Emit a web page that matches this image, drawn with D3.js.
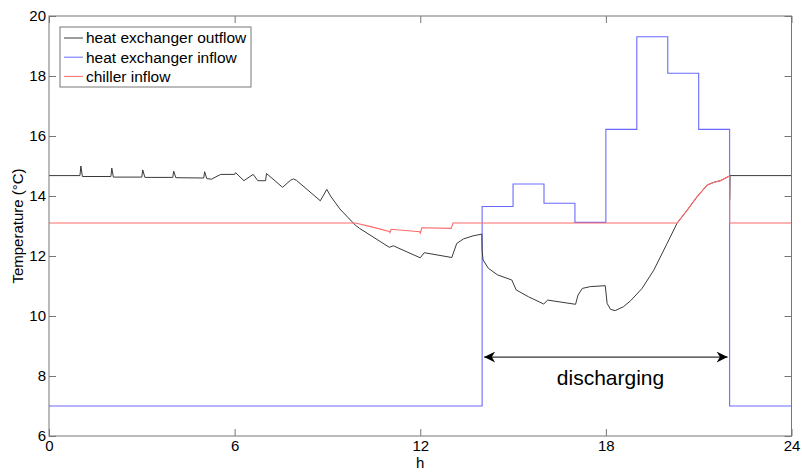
<!DOCTYPE html>
<html>
<head>
<meta charset="utf-8">
<script src="https://cdn.jsdelivr.net/npm/d3@7"></script>
<style>
  body { margin: 0; background: #fff; }
  text { font-family: Arial, "Liberation Sans", Helvetica, sans-serif; fill: #000; }
</style>
</head>
<body>
<div id="chart"></div>
<script>
// hour / temperature readings for each series
let outflow = [
  [0, 14.68], [1.0, 14.68], [1.03, 15.0], [1.08, 14.65],
  [2.0, 14.65], [2.03, 14.93], [2.08, 14.63],
  [3.0, 14.63], [3.03, 14.87], [3.1, 14.62],
  [4.0, 14.62], [4.03, 14.83], [4.1, 14.61],
  [5.0, 14.6], [5.03, 14.81], [5.1, 14.58], [5.25, 14.56], [5.55, 14.72],
  [6.0, 14.72], [6.03, 14.78], [6.3, 14.51], [6.6, 14.72], [6.75, 14.51],
  [7.0, 14.51], [7.03, 14.75], [7.55, 14.29], [7.8, 14.52], [7.9, 14.57], [8.0, 14.52],
  [8.77, 13.84], [8.98, 14.22], [9.1, 14.0], [9.4, 13.57], [9.9, 13.03],
  [10.04, 12.92], [11.0, 12.29], [11.13, 12.34], [12.0, 11.94], [12.13, 12.11],
  [13.02, 11.95], [13.18, 12.42], [13.4, 12.57], [13.7, 12.67], [13.99, 12.73],
  [14.0, 12.2], [14.03, 11.87], [14.2, 11.59], [14.5, 11.37], [14.96, 11.2],
  [15.1, 10.87], [15.5, 10.64], [15.99, 10.4], [16.12, 10.53], [17.02, 10.39],
  [17.1, 10.7], [17.24, 10.92], [17.5, 10.98], [17.98, 11.01], [18.04, 10.42],
  [18.15, 10.22], [18.3, 10.18], [18.57, 10.31], [18.8, 10.51], [19.17, 10.92],
  [19.55, 11.53], [19.98, 12.42], [20.3, 13.09], [20.63, 13.53], [20.95, 13.98],
  [21.28, 14.37], [21.5, 14.46], [21.7, 14.51], [22.0, 14.67], [22.0, 13.87],
  [22.01, 14.68], [24, 14.68]
]

let inflowHours = [0, 14, 15, 16, 17, 18, 19, 20, 21, 22, 24]
let inflowTemps = [7, 13.65, 14.4, 13.76, 13.12, 16.22, 19.31, 18.09, 16.22, 7, 7]

let chiller = [
  [0, 13.1], [9.9, 13.1], [10.4, 12.98], [11.0, 12.82], [11.02, 12.78],
  [11.06, 12.89], [11.98, 12.81], [12.0, 12.76], [12.05, 12.94], [13.0, 12.92],
  [13.06, 13.1], [20.3, 13.1], [20.63, 13.53], [20.95, 13.98], [21.28, 14.37],
  [21.5, 14.46], [21.7, 14.51], [22.0, 14.67], [22.0, 13.1], [24, 13.1]
]

let seriesNames = ["heat exchanger outflow", "heat exchanger inflow", "chiller inflow"]
let seriesColors = ["#3a3a3a", "#6a6aff", "#ff6a6a"]
let xTicks = [0, 6, 12, 18, 24]
let yTicks = [6, 8, 10, 12, 14, 16, 18, 20]
let discharge = [14, 22]   // hours, arrow span
let arrowTemp = 8.63

let width = 802, height = 473
let plotL = 49, plotR = 791.5, plotT = 16, plotB = 436

let svg = d3.select("#chart").append("svg")
svg.attr("width", width)
svg.attr("height", height)

let x = d3.scaleLinear().domain([0, 24]).range([plotL, plotR])
let y = d3.scaleLinear().domain([6, 20]).range([plotB, plotT])

let line = d3.line().x(d => x(d[0])).y(d => y(d[1]))

let inflow = inflowHours.map((h, i) => [h, inflowTemps[i]])
let stepLine = d3.line().x(d => x(d[0])).y(d => y(d[1])).curve(d3.curveStepAfter)

svg.append("path")
   .attr("d", stepLine(inflow))
   .attr("fill", "none")
   .attr("stroke", seriesColors[1])
   .attr("stroke-width", 1.1)

svg.append("path")
   .attr("d", line(outflow))
   .attr("fill", "none")
   .attr("stroke", seriesColors[0])
   .attr("stroke-width", 1)

svg.append("path")
   .attr("d", line(chiller))
   .attr("fill", "none")
   .attr("stroke", seriesColors[2])
   .attr("stroke-width", 1.1)

// axes box with inward ticks
let axisColor = "#777"
svg.append("rect")
   .attr("x", plotL).attr("y", plotT)
   .attr("width", plotR - plotL).attr("height", plotB - plotT)
   .attr("fill", "none").attr("stroke", axisColor)

function styleAxis(g) {
  g.select(".domain").remove()
  g.selectAll(".tick line").attr("stroke", axisColor)
  g.selectAll(".tick text").style("font-size", "15px")
}

svg.append("g").attr("transform", `translate(0,${plotB})`)
   .call(d3.axisBottom(x).tickValues(xTicks).tickSizeInner(-7).tickPadding(4))
   .call(styleAxis)
svg.append("g").attr("transform", `translate(0,${plotT})`)
   .call(d3.axisTop(x).tickValues(xTicks).tickSizeInner(-7).tickFormat(""))
   .call(styleAxis)
svg.append("g").attr("transform", `translate(${plotL},0)`)
   .call(d3.axisLeft(y).tickValues(yTicks).tickSizeInner(-7).tickPadding(3))
   .call(styleAxis)
svg.append("g").attr("transform", `translate(${plotR},0)`)
   .call(d3.axisRight(y).tickValues(yTicks).tickSizeInner(-7).tickFormat(""))
   .call(styleAxis)

svg.append("text")
   .attr("x", (plotL + plotR) / 2).attr("y", 468)
   .attr("text-anchor", "middle")
   .style("font-size", "15px")
   .text("h")

svg.append("text")
   .attr("transform", `translate(23,${(plotT + plotB) / 2}) rotate(-90)`)
   .attr("text-anchor", "middle")
   .style("font-size", "15px")
   .text("Temperature (°C)")

// discharging arrow
svg.append("defs").selectAll("marker")
   .data(["head"])
   .enter().append("marker")
   .attr("id", d => d)
   .attr("viewBox", "0 -5 10 10")
   .attr("refX", 10).attr("refY", 0)
   .attr("markerWidth", 15).attr("markerHeight", 11)
   .attr("markerUnits", "userSpaceOnUse")
   .attr("orient", "auto-start-reverse")
   .append("path")
   .attr("d", "M0,-5L10,0L0,5L3,0Z")
   .attr("fill", "#000")

svg.append("line")
   .attr("x1", x(discharge[0]) + 2).attr("x2", x(discharge[1]) - 2)
   .attr("y1", y(arrowTemp)).attr("y2", y(arrowTemp))
   .attr("stroke", "#000").attr("stroke-width", 1)
   .attr("marker-start", "url(#head)")
   .attr("marker-end", "url(#head)")

svg.append("text")
   .attr("x", x(18.15)).attr("y", 385)
   .attr("text-anchor", "middle")
   .style("font-size", "21px")
   .text("discharging")

// legend
let legend = svg.append("g")
legend.append("rect")
   .attr("x", 60).attr("y", 27).attr("width", 191).attr("height", 60)
   .attr("fill", "#fff").attr("stroke", axisColor)

let rows = legend.selectAll("g.row")
   .data(seriesNames)
   .enter().append("g")
   .attr("class", "row")
   .attr("transform", (d, i) => `translate(0,${38 + i * 19.2})`)

rows.append("line")
   .attr("x1", 64).attr("x2", 83)
   .attr("stroke", (d, i) => seriesColors[i])

rows.append("text")
   .attr("x", 86).attr("dy", "0.35em")
   .style("font-size", "15.5px")
   .text(d => d)
</script>
</body>
</html>
